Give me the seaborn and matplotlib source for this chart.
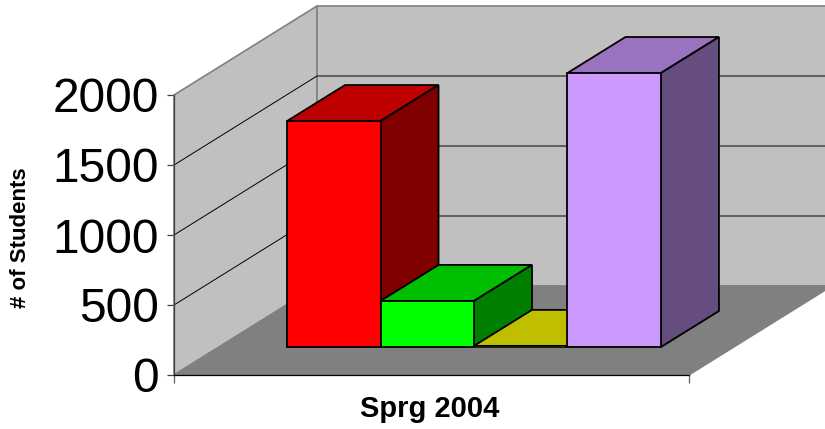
import matplotlib
matplotlib.use('Agg')
import matplotlib.pyplot as plt
import pandas as pd
import seaborn as sns
from matplotlib.colors import to_rgb
from matplotlib.patches import Polygon

# data
period = ['Sprg 2004'] * 4
series = ['A', 'B', 'C', 'D']
students = [1614, 329, 8, 1957]
front_colors = ['#FF0000', '#00FF00', '#FFFF00', '#CC99FF']
yticks = [0, 500, 1000, 1500, 2000]

W, H = 825, 429
PX_PER_UNIT = 0.14

sns.set_theme(style='white')
plt.rcParams['font.family'] = ['Liberation Sans', 'DejaVu Sans']
plt.rcParams['text.color'] = 'black'
plt.rcParams['axes.labelcolor'] = 'black'

df = pd.DataFrame({'period': period, 'series': series, 'students': students})

fig = plt.figure(figsize=(W / 100, H / 100), dpi=100)


def pos(left, bottom, right, top):
    return [left / W, 1 - bottom / H, (right - left) / W, (bottom - top) / H]


# front plane of the chart box
ax = fig.add_axes(pos(174, 375, 689, 95))
ax.set_facecolor('none')
ax.set_xlim(-0.5, 0.5)
ax.set_ylim(0, 2000)

# box depth in data units
box_dx = 143 / 515
box_dy = 89 / PX_PER_UNIT


def box(x, y, t=0.0):
    return (x + t * box_dx, y + t * box_dy)


edge = '#808080'
left_wall = [box(-0.5, 0), box(-0.5, 2000), box(-0.5, 2000, 1), box(-0.5, 0, 1)]
back_wall = [box(-0.5, 0, 1), box(-0.5, 2000, 1), box(0.5, 2000, 1), box(0.5, 0, 1)]
floor = [box(-0.5, 0), box(0.5, 0), box(0.5, 0, 1), box(-0.5, 0, 1)]
ax.add_patch(Polygon(left_wall, fc='#C0C0C0', ec=edge, lw=1.2, clip_on=False, zorder=1))
ax.add_patch(Polygon(back_wall, fc='#C0C0C0', ec=edge, lw=1.2, clip_on=False, zorder=1))
ax.add_patch(Polygon(floor, fc='#808080', ec=edge, lw=1, clip_on=False, zorder=1))

# no gridline at the top, the wall edge stays grey there
for v in yticks[1:-1]:
    a, b, c = box(-0.5, v), box(-0.5, v, 1), box(0.5, v, 1)
    ax.plot([a[0], b[0], c[0]], [a[1], b[1], c[1]], color='black', lw=0.7,
            clip_on=False, zorder=1.5, solid_joinstyle='miter')

ax.set_yticks(yticks)
ax.set_xticks([-0.5, 0.5])
ax.set_xticklabels([])
ax.tick_params(axis='y', labelsize=34.5, length=5, width=0.9, color='#404040',
               labelcolor='black', left=True, pad=6)
ax.tick_params(axis='x', length=6, width=0.9, color='#606060', bottom=True)
for s in ['top', 'right']:
    ax.spines[s].set_visible(False)
ax.spines['left'].set_color('#404040')
ax.spines['bottom'].set_color('black')
ax.spines['left'].set_linewidth(0.9)
ax.spines['bottom'].set_linewidth(0.9)
ax.set_ylabel('# of Students', fontsize=16, fontweight='bold', labelpad=0, va='center')
ax.yaxis.set_label_coords(-0.2985, 0.49)
ax.set_xlabel('Sprg 2004', fontsize=21, fontweight='bold', labelpad=0, va='center')
ax.xaxis.set_label_coords(0.497, -0.12)

# bars sit part way into the box, on their own overlaid axes
bar_ax = fig.add_axes(pos(216.5, 347, 731.5, 67))
bar_ax.set_facecolor('none')
sns.barplot(data=df, x='period', y='students', hue='series', palette=front_colors,
            width=0.726, gap=0, dodge=True, legend=False, ax=bar_ax,
            edgecolor='black', linewidth=1.3, saturation=1)
bar_ax.set_xlim(-0.5, 0.5)
bar_ax.set_ylim(0, 2000)
bar_ax.axis('off')

# depth of each bar
bar_dx = 58 / 515
bar_dy = 36 / PX_PER_UNIT

for i, p in enumerate(sorted(bar_ax.patches, key=lambda r: r.get_x())):
    x0, w, h = p.get_x(), p.get_width(), p.get_height()
    rgb = to_rgb(p.get_facecolor())
    top_c = tuple(c * 0.75 for c in rgb)
    side_c = tuple(c * 0.5 for c in rgb)
    z = 3 + i
    p.set_zorder(z + 0.2)
    p.set_clip_on(False)
    # the nearly empty bar only shows as a thin line in front
    if h < 50:
        p.set_linewidth(0.6)
    top = [(x0, h), (x0 + w, h), (x0 + w + bar_dx, h + bar_dy), (x0 + bar_dx, h + bar_dy)]
    side = [(x0 + w, 0), (x0 + w, h), (x0 + w + bar_dx, h + bar_dy), (x0 + w + bar_dx, bar_dy)]
    bar_ax.add_patch(Polygon(top, fc=top_c, ec='black', lw=1.3, clip_on=False, zorder=z))
    bar_ax.add_patch(Polygon(side, fc=side_c, ec='black', lw=1.3, clip_on=False, zorder=z))

fig.savefig('out.png', dpi=100)
